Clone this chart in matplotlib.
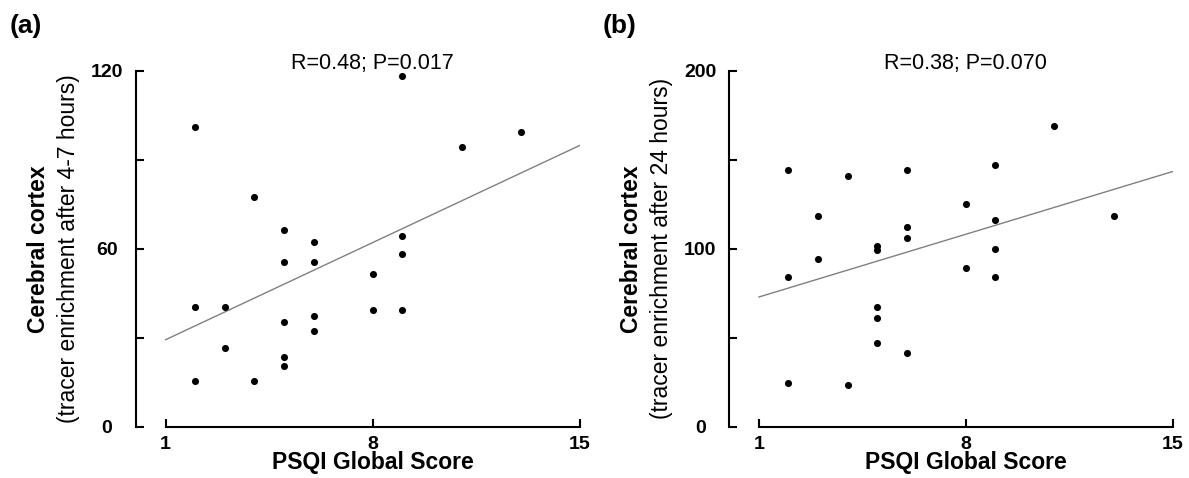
import numpy as np
import matplotlib
matplotlib.use('Agg')
import matplotlib.pyplot as plt
import matplotlib.transforms as mtransforms

plt.rcParams['font.family'] = ['Liberation Sans', 'DejaVu Sans']

# PSQI global score vs tracer enrichment
psqi_a = [2, 2, 2, 3, 3, 4, 4, 5, 5, 5, 5, 5, 6, 6, 6, 6, 8, 8, 9, 9, 9, 9, 11, 13]
enrich_a = [101, 40.4, 15.5, 40.4, 26.4, 77.3, 15.5, 66.3, 55.4, 35.4, 23.6, 20.5,
            62.4, 55.4, 37.4, 32.4, 51.4, 39.4, 118.2, 64.4, 58.3, 39.4, 94.4, 99.3]

psqi_b = [2, 2, 2, 3, 3, 4, 4, 5, 5, 5, 5, 5, 6, 6, 6, 6, 8, 8, 9, 9, 9, 9, 11, 13]
enrich_b = [144.2, 84.1, 24.4, 118.2, 94.2, 141.0, 23.4, 101.5, 99.3, 67.1, 61.1, 47.2,
            144.2, 112.2, 106.0, 41.2, 125.1, 89.2, 147.0, 116.1, 100.0, 84.1, 169.1, 118.2]

stats_a = 'R=0.48; P=0.017'
stats_b = 'R=0.38; P=0.070'
ylabel_a = '(tracer enrichment after 4-7 hours)'
ylabel_b = '(tracer enrichment after 24 hours)'

fig = plt.figure(figsize=(11.89, 4.78), dpi=100)
ax1 = fig.add_axes([0.1144, 0.1073, 0.3734, 0.7448])
ax2 = fig.add_axes([0.6134, 0.1073, 0.3729, 0.7448])


def draw_panel(ax, x, y, ymax, yticks, ylabels, stats, ylab2, letter):
    ax.scatter(x, y, s=26, color='black', zorder=3, linewidths=0)
    # least squares line over the full score range
    k, b = np.polyfit(x, y, 1)
    xl = np.array([1, 15])
    ax.plot(xl, k * xl + b, color='#808080', lw=1.0, zorder=2)

    ax.set_xlim(0, 15)
    ax.set_ylim(0, ymax)
    ax.spines['top'].set_visible(False)
    ax.spines['right'].set_visible(False)
    ax.spines['bottom'].set_bounds(1, 15)
    ax.spines['left'].set_linewidth(1.5)
    ax.spines['bottom'].set_linewidth(1.5)

    ax.set_xticks([1, 8, 15])
    ax.set_xticklabels(['1', '8', '15'], fontsize=14, fontweight='bold')
    ax.set_yticks(yticks)
    ax.set_yticklabels(ylabels, fontsize=14, fontweight='bold', ha='center')
    ax.tick_params(axis='x', direction='in', length=6, width=1.5, pad=6.5)
    ax.tick_params(axis='y', direction='in', length=6, width=1.5, pad=21)

    ax.set_xlabel('PSQI Global Score', fontsize=16.5, fontweight='bold')
    ax.xaxis.set_label_coords(8 / 15, -0.068, transform=ax.transAxes)
    ax.xaxis.label.set_va('top')

    ax.text(-0.22, 0.5, 'Cerebral cortex', transform=ax.transAxes, rotation=90,
            ha='center', va='center', fontsize=16.5, fontweight='bold')
    ax.text(-0.153, 0.5, ylab2, transform=ax.transAxes, rotation=90,
            ha='center', va='center', fontsize=16.5)

    trans = mtransforms.blended_transform_factory(ax.transData, ax.transAxes)
    ax.text(8, 1.004, stats, transform=trans, ha='center', va='baseline', fontsize=15.5)
    ax.text(-0.285, 1.106, letter, transform=ax.transAxes, ha='left', va='baseline',
            fontsize=19, fontweight='bold')


draw_panel(ax1, psqi_a, enrich_a, 120, [0, 30, 60, 90, 120], ['0', '', '60', '', '120'],
           stats_a, ylabel_a, '(a)')
draw_panel(ax2, psqi_b, enrich_b, 200, [0, 50, 100, 150, 200], ['0', '', '100', '', '200'],
           stats_b, ylabel_b, '(b)')

fig.savefig('out.png', dpi=100)
